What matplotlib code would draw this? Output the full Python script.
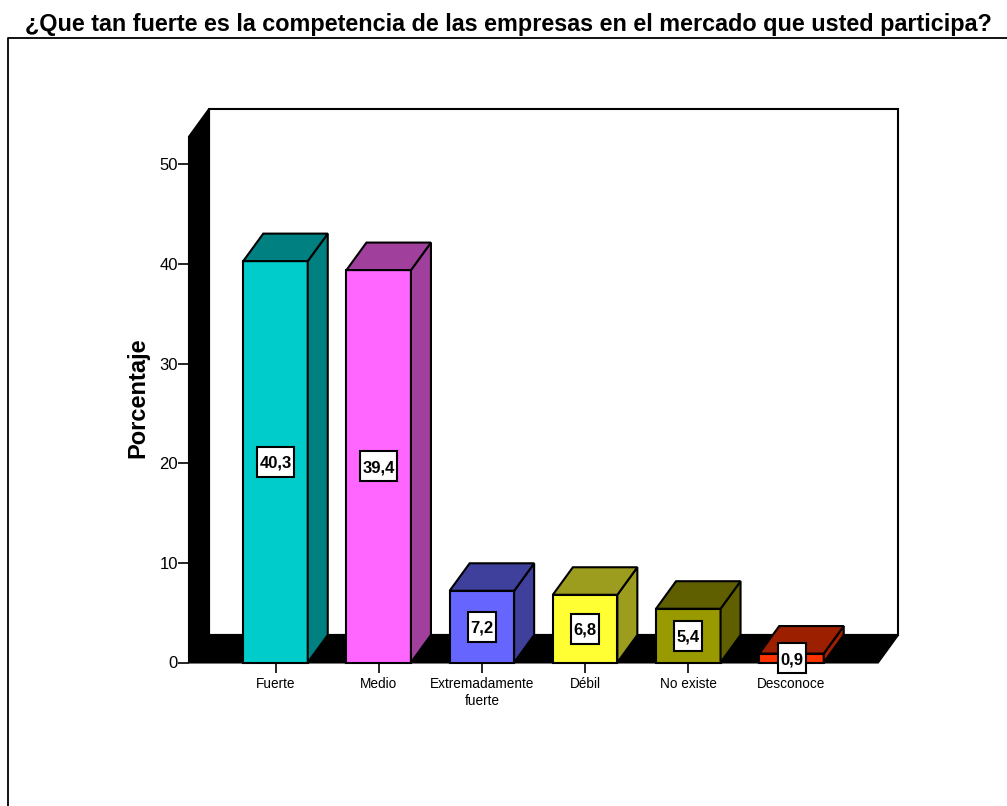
import matplotlib
matplotlib.use("Agg")
import matplotlib.pyplot as plt
from matplotlib.lines import Line2D
from matplotlib.patches import Polygon

categorias = ["Fuerte", "Medio", "Extremadamente\nfuerte", "Débil", "No existe", "Desconoce"]
valores = [40.3, 39.4, 7.2, 6.8, 5.4, 0.9]
etiquetas = ["40,3", "39,4", "7,2", "6,8", "5,4", "0,9"]
colores = ["#00CCCC", "#FF66FF", "#6666FF", "#FFFF33", "#999900", "#FF3300"]
oscuros = ["#008080", "#A03F9C", "#3F3F9C", "#9C9C1F", "#5F5F00", "#9C1F00"]
yticks = [0, 10, 20, 30, 40, 50]

W, H = 1007, 806
plt.rcParams['font.family'] = ['Liberation Sans', 'DejaVu Sans']

fig = plt.figure(figsize=(W / 100, H / 100), dpi=100)
ax = fig.add_axes([189 / W, (H - 662.5) / H, 689 / W, 525.8 / H])

# escalas: una categoria = 103.2 px, una unidad = 9.96 px
px_x = 103.2
px_y = 9.96
x0 = -86.5 / px_x
x1 = x0 + 689 / px_x
ymax = 525.8 / px_y
ax.set_xlim(x0, x1)
ax.set_ylim(0, ymax)
dx = 20 / px_x
dy = 27.5 / px_y
ancho = 64.5 / px_x

for s in ax.spines.values():
    s.set_visible(False)
ax.patch.set_visible(False)


def poly(pts, color, z, lw=1.5, edge="black"):
    ax.add_patch(Polygon(pts, closed=True, facecolor=color, edgecolor=edge, linewidth=lw,
                         joinstyle="miter", clip_on=False, zorder=z))


# paredes
poly([(x0 + dx, dy), (x1 + dx, dy), (x1 + dx, ymax + dy), (x0 + dx, ymax + dy)], "white", 1)
poly([(x0, 0), (x0 + dx, dy), (x0 + dx, ymax + dy), (x0, ymax)], "black", 2)
poly([(x0, 0), (x1, 0), (x1 + dx, dy), (x0 + dx, dy)], "black", 2)

# barras
for i, v in enumerate(valores):
    a = i - ancho / 2
    b = i + ancho / 2
    poly([(a, 0), (b, 0), (b, v), (a, v)], colores[i], 3)
    poly([(b, 0), (b + dx, dy), (b + dx, v + dy), (b, v)], oscuros[i], 3)
    poly([(a, v), (b, v), (b + dx, v + dy), (a + dx, v + dy)], oscuros[i], 3)

    # caja de la etiqueta, mas alta que ancha
    mx = (37 if len(etiquetas[i]) > 3 else 28) / 2 / px_x
    my = 15 / px_y
    c = v / 2
    poly([(i - mx, c - my), (i + mx, c - my), (i + mx, c + my), (i - mx, c + my)], "white", 4)
    ax.text(i, c, etiquetas[i], ha="center", va="center_baseline", fontsize=12, fontweight="bold", zorder=5)

ax.set_xticks(range(len(categorias)))
ax.set_xticklabels(categorias, fontsize=9.8, linespacing=1.3)
ax.set_yticks(yticks)
ax.tick_params(axis="x", length=7, width=1.2, pad=3.5, color="black")
ax.tick_params(axis="y", length=8, width=1.2, pad=0, labelsize=12, color="black")
ax.set_ylabel("Porcentaje", fontsize=17, fontweight="bold")
ax.yaxis.set_label_coords(-40 / 689, (662.5 - 398) / 525.8)

fig.text(508 / W, 1 - 24 / H, "¿Que tan fuerte es la competencia de las empresas en el mercado que usted participa?",
         ha="center", va="center", fontsize=16.8, fontweight="bold")

# marco exterior
fig.add_artist(Line2D([8 / W, 8 / W, 1], [0, 1 - 38 / H, 1 - 38 / H], color="black", linewidth=1.3))

plt.savefig("out.png", dpi=100)
plt.close()
